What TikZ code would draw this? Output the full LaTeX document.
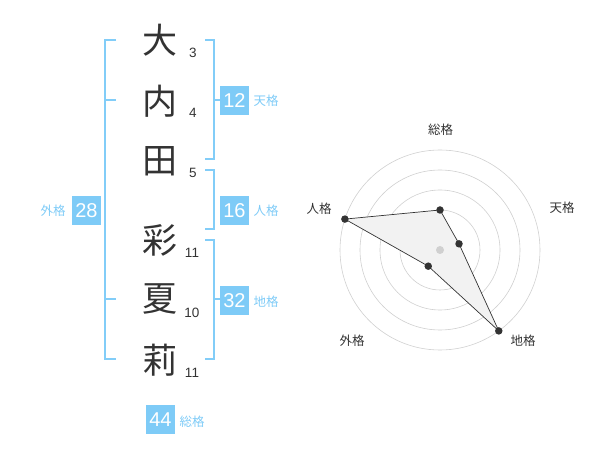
\documentclass[tikz,border=0pt]{standalone}
\usepackage{fontspec}
\setmainfont{Liberation Sans}
\newfontfamily\jp{Noto Sans CJK JP}
\definecolor{kblue}{RGB}{126,203,247}
\definecolor{kline}{RGB}{130,205,248}
\definecolor{kdark}{RGB}{51,51,51}
\definecolor{kring}{RGB}{208,208,208}
\definecolor{kfill}{RGB}{242,242,242}
\begin{document}
\begin{tikzpicture}[x=1pt,y=-1pt,
  kanji/.style={font=\jp\fontsize{35}{35}\selectfont,text=kdark,inner sep=0},
  strokes/.style={font=\fontsize{13.5}{14}\selectfont,text=kdark,inner sep=0},
  bracket/.style={draw=kline,line width=1.8pt},
  numbox/.style={fill=kblue,text=white,minimum width=29pt,minimum height=29pt,inner sep=0,font=\fontsize{20}{20}\selectfont},
  klabel/.style={font=\jp\fontsize{12.5}{13}\selectfont,text=kblue,inner sep=0},
  rlabel/.style={font=\jp\fontsize{12.5}{13}\selectfont,text=kdark,inner sep=0},
  ring/.style={draw=kring,line width=0.6pt},
  dot/.style={circle,fill=kdark,inner sep=0,minimum size=7.5pt}]
\useasboundingbox (0,0) rectangle (600,470);
% kanji
\node[kanji] (k1) at (159.5,40) {大};
\node[kanji] (k2) at (159.5,101) {内};
\node[kanji] (k3) at (159.5,161) {田};
\node[kanji] (k4) at (159.5,240) {彩};
\node[kanji] (k5) at (159.5,299) {夏};
\node[kanji] (k6) at (159.5,360) {莉};
% stroke counts
\node[strokes] (s1) at (193,53) {3};
\node[strokes] (s2) at (193,113) {4};
\node[strokes] (s3) at (193,173) {5};
\node[strokes] (s4) at (192,253) {11};
\node[strokes] (s5) at (192,313) {10};
\node[strokes] (s6) at (192,373) {11};
% left bracket (gaikaku)
\draw[bracket] (116,40) -- (105,40) -- (105,359) -- (116,359);
\draw[bracket] (105,100) -- (116,100);
\draw[bracket] (105,299) -- (116,299);
% right brackets
\draw[bracket] (205,40) -- (214,40) -- (214,159) -- (205,159);
\draw[bracket] (214,100) -- (220,100);
\draw[bracket] (205,170) -- (214,170) -- (214,229) -- (205,229);
\draw[bracket] (205,240) -- (214,240) -- (214,359) -- (205,359);
\draw[bracket] (214,299) -- (220,299);
% boxes
\node[numbox] (b12) at (234.5,100.5) {12};
\node[klabel] (l12) at (266,101) {天格};
\node[numbox] (b16) at (234.5,210.5) {16};
\node[klabel] (l16) at (266,211) {人格};
\node[numbox] (b28) at (86.5,210.5) {28};
\node[klabel] (l28) at (53,211) {外格};
\node[numbox] (b32) at (234.5,300.5) {32};
\node[klabel] (l32) at (266,302) {地格};
\node[numbox] (b44) at (160.5,419.5) {44};
\node[klabel] (l44) at (192,422) {総格};
% radar chart
\coordinate (c) at (440,250);
\foreach \r in {20,40,60,80,100} \draw[ring] (c) circle[radius=\r];
\path (c) ++(0,-40) coordinate (pS);
\path (c) ++({20*cos(18)},{-20*sin(18)}) coordinate (pT);
\path (c) ++({100*cos(-54)},{-100*sin(-54)}) coordinate (pC);
\path (c) ++({20*cos(234)},{-20*sin(234)}) coordinate (pG);
\path (c) ++({100*cos(162)},{-100*sin(162)}) coordinate (pJ);
\draw[fill=kfill,draw=kdark,line width=0.7pt] (pS) -- (pT) -- (pC) -- (pG) -- (pJ) -- cycle;
\fill[kring] (c) circle[radius=4];
\foreach \p in {pS,pT,pC,pG,pJ} \node[dot] at (\p) {};
\node[rlabel] (rS) at (440.5,130) {総格};
\node[rlabel] (rT) at (562,208) {天格};
\node[rlabel] (rC) at (523,341) {地格};
\node[rlabel] (rG) at (352,341) {外格};
\node[rlabel] (rJ) at (319,209) {人格};
\end{tikzpicture}
\end{document}
